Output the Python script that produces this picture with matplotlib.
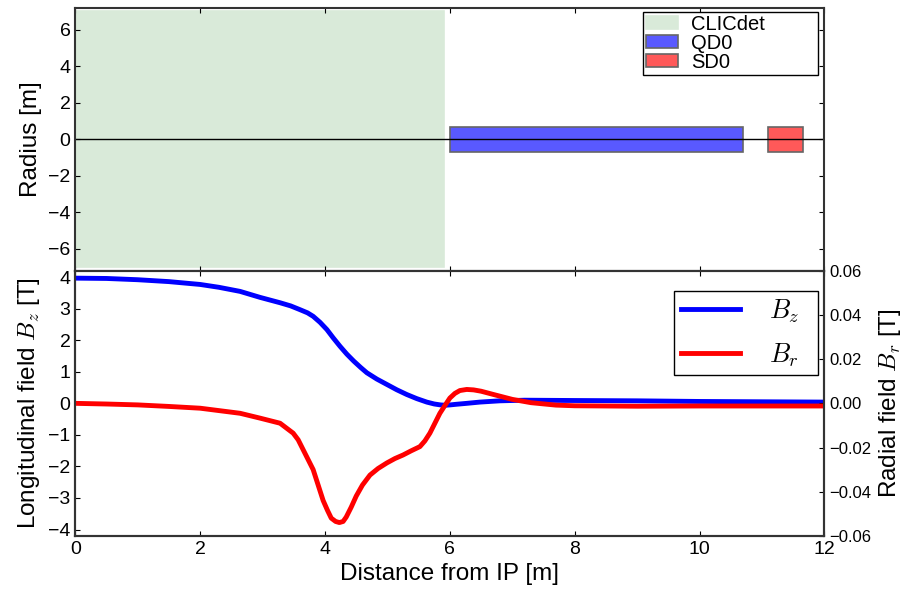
import matplotlib
matplotlib.use("Agg")
import matplotlib.pyplot as plt
from matplotlib.patches import Rectangle

plt.rcParams['font.family'] = ['Liberation Sans', 'DejaVu Sans']
plt.rcParams['mathtext.fontset'] = 'cm'
plt.rcParams['xtick.direction'] = 'in'
plt.rcParams['ytick.direction'] = 'in'

# element layout (start, end, half aperture) in metres
elements = ["CLICdet", "QD0", "SD0"]
elem_start = [0.0, 6.0, 11.1]
elem_end = [5.9, 10.7, 11.65]
elem_radius = [7.0, 0.7, 0.7]
elem_colors = ["#d9ead9", "#5959ff", "#ff5959"]

# field along the axis
z_bz = [0, 0.5, 1, 1.5, 2, 2.3, 2.64, 2.96, 3.28, 3.45, 3.6, 3.72, 3.81, 3.92,
        4.03, 4.13, 4.24, 4.35, 4.46, 4.57, 4.67, 4.83, 4.99, 5.15, 5.31, 5.47,
        5.63, 5.75, 5.85, 5.93, 6.0, 6.1, 6.27, 6.48, 6.8, 7.2, 8, 9, 10, 11, 12]
bz = [3.97, 3.96, 3.92, 3.86, 3.77, 3.68, 3.55, 3.36, 3.19, 3.09, 2.97, 2.87,
      2.76, 2.57, 2.34, 2.08, 1.81, 1.56, 1.34, 1.14, 0.97, 0.77, 0.60, 0.43,
      0.28, 0.15, 0.04, -0.02, -0.05, -0.06, -0.05, -0.03, 0.0, 0.04, 0.08,
      0.1, 0.09, 0.08, 0.06, 0.05, 0.04]

z_br = [0, 0.5, 1, 1.5, 2, 2.64, 2.96, 3.28, 3.49, 3.57, 3.65, 3.73, 3.81, 3.89,
        3.97, 4.04, 4.1, 4.17, 4.23, 4.29, 4.34, 4.42, 4.5, 4.6, 4.72, 4.85, 4.99,
        5.12, 5.25, 5.38, 5.52, 5.6, 5.68, 5.76, 5.84, 5.92, 6.0, 6.08, 6.16,
        6.27, 6.38, 6.5, 6.7, 7.0, 7.3, 7.7, 8, 9, 10, 11, 12]
br = [0, -0.0003, -0.0007, -0.0014, -0.0022, -0.0045, -0.0067, -0.009,
      -0.0135, -0.0165, -0.021, -0.0255, -0.030, -0.037, -0.044, -0.0485,
      -0.052, -0.0535, -0.054, -0.0535, -0.0515, -0.047, -0.042, -0.037,
      -0.0325, -0.0295, -0.027, -0.025, -0.0234, -0.0215, -0.0196, -0.017,
      -0.0135, -0.009, -0.0045, -0.001, 0.0024, 0.0045, 0.0058, 0.0063,
      0.0061, 0.0055, 0.004, 0.0018, 0.0003, -0.0008, -0.0011, -0.0013,
      -0.0012, -0.0012, -0.0012]

fig = plt.figure(figsize=(9.07, 5.98), dpi=100)
ax1 = fig.add_axes([0.083, 0.547, 0.826, 0.44])
ax2 = fig.add_axes([0.083, 0.104, 0.826, 0.443], sharex=ax1)

# top panel: geometry
for name, x0, x1, r, c in zip(elements, elem_start, elem_end, elem_radius, elem_colors):
    ec = c if name == "CLICdet" else "#666666"
    ax1.add_patch(Rectangle((x0, -r), x1 - x0, 2 * r, facecolor=c,
                            edgecolor=ec, linewidth=1.2, label=name))
ax1.axhline(0, color="black", linewidth=1)
ax1.set_ylim(-7.2, 7.2)
ax1.set_yticks([-6, -4, -2, 0, 2, 4, 6])
ax1.set_ylabel("Radius [m]", fontsize=17.5)
ax1.tick_params(labelsize=14, top=True, right=True, labelbottom=False)
ax1.legend(loc="upper left", bbox_to_anchor=(0.758, 0.985, 0.234, 0.0),
           mode="expand", fontsize=14.5, labelspacing=0.0, borderpad=0.15,
           handlelength=1.6, handleheight=0.6, handletextpad=0.65,
           fancybox=False, edgecolor="black", framealpha=1, borderaxespad=0)

# bottom panel: fields
l1, = ax2.plot(z_bz, bz, color="blue", linewidth=3.5, label="$B_z$")
ax2.set_ylim(-4.2, 4.2)
ax2.set_yticks([-4, -3, -2, -1, 0, 1, 2, 3, 4])
ax2.set_xlim(0, 12)
ax2.set_ylabel("Longitudinal field $B_z$ [T]", fontsize=17.5)
ax2.set_xlabel("Distance from IP [m]", fontsize=17.5)
ax2.tick_params(labelsize=14, top=True)

ax3 = ax2.twinx()
l2, = ax3.plot(z_br, br, color="red", linewidth=3.5, label="$B_r$")
ax3.set_ylim(-0.06, 0.06)
ax3.set_yticks([-0.06, -0.04, -0.02, 0, 0.02, 0.04, 0.06])
ax3.set_yticklabels(["\u22120.06", "\u22120.04", "\u22120.02", "0.00", "0.02", "0.04", "0.06"])
ax3.set_ylabel("Radial field $B_r$ [T]", fontsize=17.5)
ax3.tick_params(labelsize=12)

ax3.legend([l1, l2], ["$B_z$", "$B_r$"], loc="upper left",
           bbox_to_anchor=(0.7996, 0.925, 0.192, 0.0), mode="expand",
           fontsize=19, fancybox=False, edgecolor="black", framealpha=1,
           handlelength=2.25, handletextpad=1.1, labelspacing=0.62,
           borderpad=0.25, borderaxespad=0)

for ax in (ax1, ax2, ax3):
    for s in ax.spines.values():
        s.set_linewidth(1.5)
        s.set_color("#333333")

fig.savefig("out.png", dpi=100)
